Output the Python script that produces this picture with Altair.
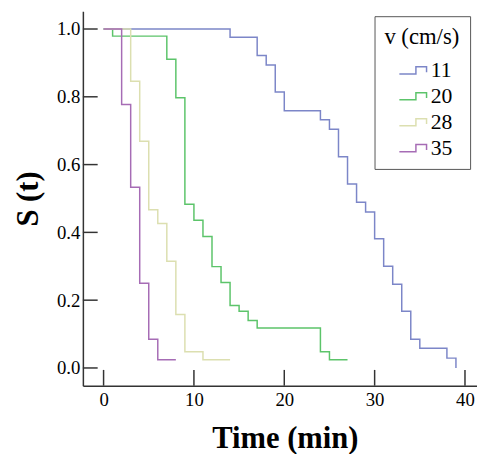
import altair as alt
import pandas as pd

groups = ["11", "20", "28", "35"]
colors = ["#7c86c8", "#5cc46a", "#dcdfb0", "#a66cb5"]

t11 = [0, 14, 17, 18, 19, 20, 24, 25, 26, 27, 28, 29, 30, 31, 32, 33, 34, 35, 38, 39]
s11 = [1.0, 0.976, 0.922, 0.894, 0.814, 0.759, 0.732, 0.704, 0.623, 0.543, 0.489,
       0.460, 0.381, 0.300, 0.247, 0.167, 0.085, 0.058, 0.029, 0.0]
t20 = [0, 1, 7, 8, 9, 10, 11, 12, 13, 14, 15, 16, 17, 24, 25, 27]
s20 = [1.0, 0.979, 0.911, 0.797, 0.483, 0.436, 0.388, 0.299, 0.252, 0.184, 0.167,
       0.140, 0.118, 0.048, 0.024, 0.024]
t28 = [0, 3, 4, 5, 6, 7, 8, 9, 11, 14]
s28 = [1.0, 0.846, 0.669, 0.467, 0.426, 0.315, 0.158, 0.048, 0.024, 0.024]
t35 = [0, 2, 3, 4, 5, 6, 8]
s35 = [1.0, 0.777, 0.533, 0.250, 0.085, 0.024, 0.024]

x_ticks = [0, 10, 20, 30, 40]
y_ticks = [0.0, 0.2, 0.4, 0.6, 0.8, 1.0]

rows = []
for g, ts, ss in zip(groups, [t11, t20, t28, t35], [s11, s20, s28, s35]):
    for i, (t, s) in enumerate(zip(ts, ss)):
        rows.append({"v": g, "t": t, "s": s, "order": i})
df = pd.DataFrame(rows)
xt = pd.DataFrame({"t": x_ticks})
yt = pd.DataFrame({"s": y_ticks})

FONT = "Liberation Serif"
W, H = 400, 380

xscale = alt.Scale(domain=[-2.29, 41.33], nice=False, zero=False)
yscale = alt.Scale(domain=[-0.0523, 1.0523], nice=False, zero=False)

sym = "M-1.15,0.3L0.25,0.3L0.25,-0.3L1.15,-0.3L1.15,0.15"

lines = alt.Chart(df).mark_line(interpolate="step-after", strokeWidth=1.5).encode(
    x=alt.X("t:Q", scale=xscale,
            axis=alt.Axis(title="Time (min)", values=x_ticks, format="d",
                          labelPadding=5, titleX=205, titleY=63,
                          titleBaseline="alphabetic", titleAlign="center")),
    y=alt.Y("s:Q", scale=yscale,
            axis=alt.Axis(title="S (t)", values=y_ticks, format=".1f",
                          labelPadding=3, titleX=-55, titleY=190, titleAngle=270,
                          titleBaseline="middle", titleAlign="center")),
    color=alt.Color("v:N", scale=alt.Scale(domain=groups, range=colors),
                    legend=alt.Legend(title="v (cm/s)", orient="none", legendX=296, legendY=5,
                                      strokeColor="#555555",
                                      fillColor="white", padding=10,
                                      titleFont=FONT, titleFontSize=23, titleFontWeight="normal",
                                      titleColor="black", titlePadding=9,
                                      labelFont=FONT, labelFontSize=22, labelColor="black",
                                      symbolType=sym, symbolSize=576, symbolStrokeWidth=1.5,
                                      symbolFillColor="transparent", symbolOffset=16,
                                      labelOffset=5, rowPadding=2.3)),
    order="order:Q",
)

xtick_rules = alt.Chart(xt).mark_rule(color="#333333", strokeWidth=1.5).encode(
    x=alt.X("t:Q", scale=xscale), y=alt.value(H), y2=alt.value(H - 16)
)
ytick_rules = alt.Chart(yt).mark_rule(color="#333333", strokeWidth=1.5).encode(
    y=alt.Y("s:Q", scale=yscale), x=alt.value(0), x2=alt.value(15)
)

chart = alt.layer(lines, xtick_rules, ytick_rules).properties(
    width=W, height=H,
    background="white",
    autosize=alt.AutoSizeParams(type="none"),
    padding={"left": 76, "top": 0, "right": 0, "bottom": 66},
).configure_view(stroke=None).configure_axis(
    grid=False, tickSize=0, domainColor="#333333", domainWidth=1.5,
    labelFont=FONT, labelFontSize=19, labelColor="black",
    titleFont=FONT, titleFontSize=31, titleFontWeight="bold", titleColor="black",
)

chart.save("out.html", embed_options={"renderer": "svg", "actions": False})
